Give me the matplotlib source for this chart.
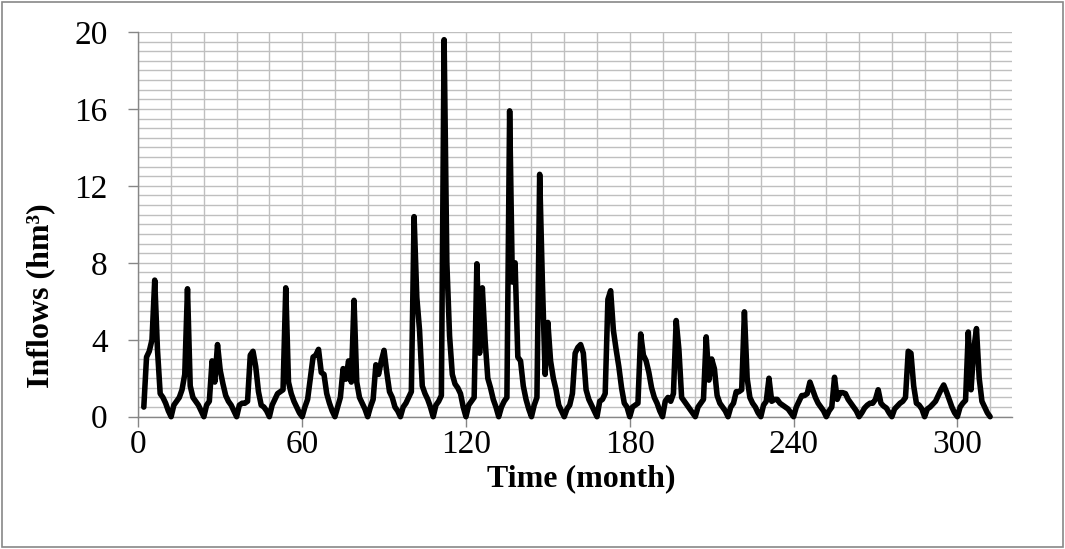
import matplotlib
matplotlib.use('Agg')
import matplotlib.pyplot as plt
from matplotlib.ticker import MultipleLocator
from matplotlib.patches import Rectangle

# 字體設定 (Times 風格)
plt.rcParams['font.family'] = ['Liberation Serif', 'DejaVu Serif']

# 月份 (2 ~ 312)
months = list(range(2, 313))

# 月入流量 (hm3)，每行一年
inflows = [
    0.5, 3.1, 3.4, 4.0, 7.1, 3.5, 1.2, 1.0, 0.7, 0.3, 0.0,
    0.6, 0.8, 1.0, 1.4, 2.2, 6.65, 1.6, 1.0, 0.8, 0.6, 0.3, 0.0,
    0.6, 0.8, 2.9, 1.8, 3.75, 2.4, 1.7, 1.1, 0.8, 0.6, 0.3, 0.0,
    0.6, 0.7, 0.7, 0.8, 3.2, 3.4, 2.6, 1.3, 0.6, 0.5, 0.3, 0.0,
    0.6, 0.9, 1.2, 1.3, 1.4, 6.7, 1.8, 1.2, 0.8, 0.5, 0.2, 0.0,
    0.5, 0.9, 2.0, 3.1, 3.2, 3.5, 2.3, 2.2, 1.2, 0.7, 0.3, 0.0,
    0.5, 1.0, 2.5, 1.95, 2.9, 1.8, 6.05, 1.8, 1.0, 0.7, 0.4, 0.0,
    0.5, 0.9, 2.7, 2.2, 2.9, 3.45, 2.3, 1.3, 1.0, 0.5, 0.3, 0.0,
    0.5, 0.7, 1.0, 1.3, 10.4, 6.2, 4.5, 1.6, 1.2, 0.9, 0.5, 0.0,
    0.6, 0.8, 1.1, 19.6, 8.0, 4.2, 2.2, 1.7, 1.5, 1.2, 0.5, 0.0,
    0.6, 0.8, 1.0, 7.95, 3.3, 6.7, 4.0, 2.0, 1.5, 0.9, 0.5, 0.0,
    0.5, 0.8, 1.0, 15.9, 7.0, 8.0, 3.1, 2.9, 1.6, 0.9, 0.4, 0.0,
    0.6, 1.0, 12.6, 7.0, 2.2, 4.9, 2.9, 2.0, 1.4, 0.6, 0.3, 0.0,
    0.4, 0.6, 1.2, 3.3, 3.6, 3.75, 3.3, 1.4, 0.9, 0.6, 0.3, 0.0,
    0.8, 0.9, 1.2, 6.1, 6.55, 4.5, 3.5, 2.6, 1.5, 0.7, 0.5, 0.0,
    0.5, 0.6, 0.7, 4.3, 3.2, 2.9, 2.3, 1.5, 1.0, 0.7, 0.3, 0.0,
    0.8, 1.0, 0.8, 1.2, 5.0, 3.5, 1.0, 0.8, 0.6, 0.4, 0.2, 0.0,
    0.5, 0.7, 0.9, 4.15, 1.9, 3.0, 2.5, 1.1, 0.7, 0.5, 0.3, 0.0,
    0.5, 0.7, 1.3, 1.3, 1.4, 5.45, 2.0, 1.0, 0.7, 0.5, 0.2, 0.0,
    0.6, 0.8, 2.0, 0.8, 0.9, 0.9, 0.7, 0.6, 0.5, 0.4, 0.2, 0.0,
    0.5, 0.8, 1.1, 1.1, 1.2, 1.8, 1.4, 1.0, 0.7, 0.5, 0.3, 0.0,
    0.3, 0.5, 2.05, 0.9, 1.25, 1.25, 1.2, 0.9, 0.7, 0.5, 0.3, 0.0,
    0.2, 0.45, 0.6, 0.7, 0.7, 0.9, 1.4, 0.7, 0.55, 0.45, 0.2, 0.0,
    0.4, 0.55, 0.7, 0.8, 1.0, 3.4, 3.3, 1.6, 0.7, 0.6, 0.4, 0.0,
    0.4, 0.5, 0.65, 0.8, 1.1, 1.4, 1.65, 1.3, 0.9, 0.5, 0.2, 0.0,
    0.5, 0.7, 0.85, 4.4, 1.4, 3.5, 4.58, 2.0, 0.8, 0.5, 0.2, 0.0,
]

fig = plt.figure(figsize=(10.65, 5.49), dpi=100)
ax = fig.add_axes([0.1299, 0.241, 0.8203, 0.7007])

ax.plot(months, inflows, color='black', linewidth=4.0,
        solid_joinstyle='round', solid_capstyle='round',
        clip_on=False, zorder=3)

ax.set_xlim(0, 320)
ax.set_ylim(0, 20)
ax.xaxis.set_major_locator(MultipleLocator(60))
ax.xaxis.set_minor_locator(MultipleLocator(12))
ax.yaxis.set_major_locator(MultipleLocator(4))
ax.yaxis.set_minor_locator(MultipleLocator(0.5))

# 格線
ax.grid(True, which='both', color='#BFBFBF', linewidth=1.0, zorder=0)
ax.set_axisbelow(True)

for side in ['top', 'right']:
    ax.spines[side].set_visible(False)
for side in ['left', 'bottom']:
    ax.spines[side].set_color('#868686')
    ax.spines[side].set_linewidth(1.0)

ax.tick_params(axis='both', which='major', direction='out', length=7,
               width=1.0, color='#868686', labelsize=24, labelcolor='black')
ax.tick_params(axis='both', which='minor', length=0)
ax.tick_params(axis='x', pad=2)
ax.tick_params(axis='y', pad=15)

# 軸標題 (位置依原圖)
ax.set_xlabel('Time (month)', fontsize=23, fontweight='bold', va='center')
ax.xaxis.set_label_coords(0.507, -0.16)
ax.set_ylabel('Inflows (hm³)', fontsize=23, fontweight='bold', va='center')
ax.yaxis.set_label_coords(-0.112, 0.314)

# 外框
fig.add_artist(Rectangle((0.002, 0.003), 0.996, 0.994, transform=fig.transFigure,
                         fill=False, edgecolor='#888888', linewidth=1.2))

plt.savefig('out.png', dpi=100)
plt.close()
